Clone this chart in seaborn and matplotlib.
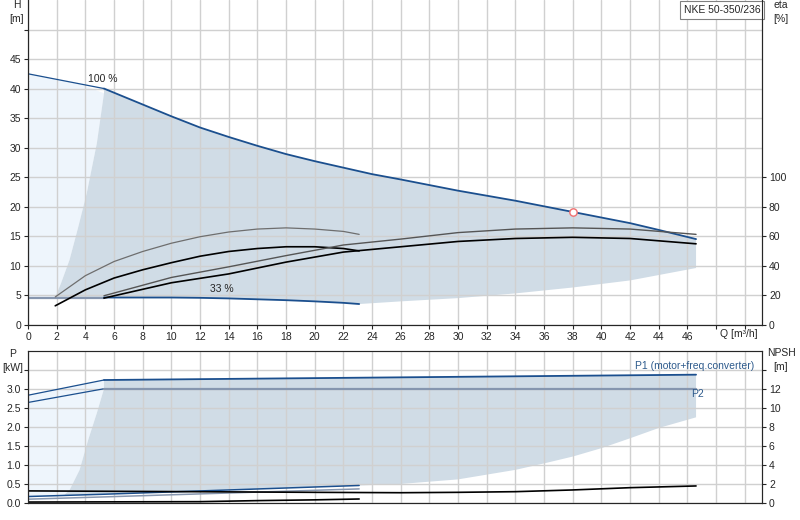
import numpy as np
import matplotlib
matplotlib.use("Agg")
import matplotlib.pyplot as plt
import seaborn as sns

# ---- data ----
# head curve at 100 % speed
q_h100_lo = [0, 5.3]
h_h100_lo = [42.5, 40.0]
q_h100 = [5.3, 8, 10, 12, 14, 16, 18, 20, 22, 24, 26, 30, 34, 38, 42, 44, 46.6]
h_h100 = [40.0, 37.3, 35.3, 33.4, 31.8, 30.3, 28.9, 27.7, 26.6, 25.5, 24.6, 22.7, 21.0, 19.1, 17.2, 16.05, 14.5]

# head curve at 33 % speed
q_h33 = [5.3, 10, 12, 14, 16, 18, 20, 22, 23.1]
h_h33 = [4.6, 4.6, 4.55, 4.45, 4.3, 4.15, 3.95, 3.7, 3.5]
q_minflow = [0, 5.3]
h_minflow = [4.6, 4.6]

# efficiency curves [%]
q_eta_a = [1.9, 4, 6, 8, 10, 12, 14, 16, 18, 20, 22, 23.1]
eta_a = [18.8, 33.2, 42.8, 49.6, 55.2, 59.6, 62.8, 64.8, 65.6, 64.8, 63.2, 61.2]
q_eta_b = [1.9, 4, 6, 8, 10, 12, 14, 16, 18, 20, 22, 23.1]
eta_b = [12.8, 23.6, 31.6, 37.2, 42.0, 46.4, 49.6, 51.6, 52.8, 52.8, 51.6, 50.0]
q_eta_c = [5.3, 10, 14, 18, 22, 26, 30, 34, 38, 42, 46.6]
eta_c = [19.6, 32.0, 39.2, 46.8, 54.0, 58.0, 62.4, 64.8, 65.6, 64.8, 61.2]
q_eta_d = [5.3, 10, 14, 18, 22, 26, 30, 34, 38, 42, 46.6]
eta_d = [18.0, 28.4, 34.4, 42.4, 49.2, 52.8, 56.4, 58.4, 59.2, 58.4, 54.8]

# duty point
q_duty = [38.0]
h_duty = [19.05]

# operating area (head chart)
q_area_left = [1.9, 2.3, 2.9, 3.5, 4.1, 4.8, 5.3]
h_area_left = [4.7, 7.0, 11.0, 16.5, 22.3, 30.7, 39.2]
q_area_low = [23.1, 26, 30, 34, 38, 42, 46.6]
h_area_low = [3.5, 3.95, 4.5, 5.3, 6.3, 7.5, 9.6]
q_light_top = [0, 3.6, 5.3]
h_light_top = [42.5, 40.8, 39.2]

# power curves [kW]
q_p1_lo = [0, 5.3]
p1_lo = [2.83, 3.23]
q_p1 = [5.3, 26, 46.6]
p1 = [3.23, 3.30, 3.37]
q_p2_lo = [0, 5.3]
p2_lo = [2.64, 3.0]
q_p2 = [5.3, 46.6]
p2 = [3.0, 3.0]
q_p1_33 = [0, 5.3, 23.1]
p1_33 = [0.17, 0.23, 0.46]
q_p2_33 = [0, 5.3, 23.1]
p2_33 = [0.10, 0.16, 0.37]

# operating area (power chart)
q_parea_left = [2.5, 2.9, 3.6, 4.2, 4.8, 5.3, 5.3]
p_parea_left = [0.2, 0.34, 0.87, 1.66, 2.36, 3.0, 3.23]
q_parea_low = [2.5, 5.3, 12, 23.1, 26, 30, 34, 36, 38, 40, 42, 44, 46.6]
p_parea_low = [0.2, 0.23, 0.32, 0.46, 0.5, 0.62, 0.87, 1.04, 1.22, 1.44, 1.70, 1.97, 2.25]

# NPSH curves [m]
q_npsh = [0, 10, 20, 26, 30, 34, 38, 42, 46.6]
npsh = [1.27, 1.2, 1.12, 1.08, 1.12, 1.19, 1.37, 1.61, 1.79]
q_npsh33 = [0, 12, 16, 20, 23.1]
npsh33 = [0.1, 0.14, 0.25, 0.33, 0.42]

x_ticks = list(range(0, 52, 2))
x_labels = [str(t) if t <= 46 else "" for t in x_ticks]

BLUE = "#1b4f8e"
GREYBLUE = "#8696af"
DARK = "#d0dce6"
LIGHT = "#eef5fc"
GRID = "#d0d0d0"
FS = 7.5

sns.set_style("ticks")
plt.rcParams["font.family"] = ["Liberation Sans", "DejaVu Sans"]
plt.rcParams["font.size"] = FS


def line(ax, q, v, color, lw):
    sns.lineplot(x=q, y=v, ax=ax, color=color, linewidth=lw, sort=False,
                 estimator=None, legend=False)


fig = plt.figure(figsize=(8, 5.2), dpi=100)
ax = fig.add_axes([0.035, 0.3756, 0.9175, 0.6244])
axp = fig.add_axes([0.035, 0.0327, 0.9175, 0.2929])

# ---------- head chart ----------
ax.set_axisbelow("line")
# light area
lq = q_light_top + q_area_left[::-1] + [0]
lh = h_light_top + h_area_left[::-1] + [4.6]
ax.fill(lq, lh, color=LIGHT, lw=0, zorder=1)
# dark area
dq = q_area_left + q_h100 + q_area_low[::-1] + q_h33[::-1] + [1.9]
dh = h_area_left + h_h100 + h_area_low[::-1] + h_h33[::-1] + [4.6]
ax.fill(dq, dh, color=DARK, lw=0, zorder=1)

line(ax, q_minflow, h_minflow, GREYBLUE, 1.6)
line(ax, q_h100_lo, h_h100_lo, BLUE, 0.9)
line(ax, q_h100, h_h100, BLUE, 1.3)
line(ax, q_h33, h_h33, BLUE, 1.3)
ax.scatter(q_duty, h_duty, s=28, facecolor="white", edgecolor="#f07070",
           linewidth=1.0, zorder=5)

ax.text(5.2, 41.6, "100 %", ha="center", va="center", fontsize=FS)
ax.text(13.5, 6.0, "33 %", ha="center", va="center", fontsize=FS)
ax.text(0.9975, 0.985, "NKE 50-350/236", transform=ax.transAxes, ha="right",
        va="top", fontsize=FS,
        bbox=dict(boxstyle="square,pad=0.35", facecolor="white", edgecolor="#808080", lw=0.8))

ax.set_xlim(0, 51.2)
ax.set_ylim(0, 55)
ax.set_xticks(x_ticks)
ax.set_xticklabels(x_labels)
ax.set_yticks(range(0, 55, 5))
ax.set_yticklabels([str(t) if t <= 45 else "" for t in range(0, 55, 5)])
ax.grid(True, color=GRID, lw=1.0)
ax.tick_params(length=3, width=0.8, labelsize=FS, pad=2)
ax.spines["top"].set_visible(False)

ax_eta = ax.twinx()
line(ax_eta, q_eta_a, eta_a, "#6e6e6e", 0.9)
line(ax_eta, q_eta_b, eta_b, "black", 1.2)
line(ax_eta, q_eta_c, eta_c, "#555555", 1.0)
line(ax_eta, q_eta_d, eta_d, "black", 1.2)
ax_eta.set_ylim(0, 220)
ax_eta.set_yticks(range(0, 101, 20))
ax_eta.tick_params(length=3, width=0.8, labelsize=FS, pad=2)
ax_eta.spines["top"].set_visible(False)
ax_eta.set_ylabel("")

# ---------- power chart ----------
axp.set_axisbelow("line")
plq = q_p1_lo + q_parea_left[::-1] + [0]
plp = p1_lo + p_parea_left[::-1] + [0.17]
axp.fill(plq, plp, color=LIGHT, lw=0, zorder=1)
pdq = q_parea_left + q_p1 + q_parea_low[::-1]
pdp = p_parea_left + p1 + p_parea_low[::-1]
axp.fill(pdq, pdp, color=DARK, lw=0, zorder=1)

line(axp, q_p1_lo, p1_lo, BLUE, 0.9)
line(axp, q_p1, p1, BLUE, 1.3)
line(axp, q_p2_lo, p2_lo, BLUE, 0.9)
line(axp, q_p2, p2, GREYBLUE, 1.6)
line(axp, q_p1_33, p1_33, BLUE, 1.1)
line(axp, q_p2_33, p2_33, GREYBLUE, 1.1)

axp.text(50.66, 3.59, "P1 (motor+freq.converter)", ha="right", va="center",
         fontsize=FS, color="#2d5a8c")
axp.text(46.7, 2.87, "P2", ha="center", va="center", fontsize=FS, color="#2d5a8c")

axp.set_xlim(0, 51.2)
axp.set_ylim(0, 4.0)
axp.set_xticks(x_ticks)
axp.set_xticklabels([])
axp.set_yticks(np.arange(0, 3.6, 0.5))
axp.set_yticklabels(["0.0", "0.5", "1.0", "1.5", "2.0", "2.5", "3.0", ""])
axp.grid(True, color=GRID, lw=1.0)
axp.tick_params(axis="y", length=3, width=0.8, labelsize=FS, pad=2)
axp.tick_params(axis="x", length=0)
for s in axp.spines.values():
    s.set_color("#333333")
axp.spines["top"].set_color("#777777")

ax_np = axp.twinx()
line(ax_np, q_npsh, npsh, "black", 1.2)
line(ax_np, q_npsh33, npsh33, "black", 1.2)
ax_np.set_ylim(0, 16)
ax_np.set_yticks(range(0, 15, 2))
ax_np.set_yticklabels([str(t) if t <= 12 else "" for t in range(0, 15, 2)])
ax_np.tick_params(length=3, width=0.8, labelsize=FS, pad=2)
ax_np.set_ylabel("")

# axis captions
fig.text(17 / 800, 1 - 12 / 520, "H\n[m]", ha="center", va="center", fontsize=FS, linespacing=1.4)
fig.text(781 / 800, 1 - 12 / 520, "eta\n[%]", ha="center", va="center", fontsize=FS, linespacing=1.4)
fig.text(739 / 800, 1 - 334 / 520, "Q [m³/h]", ha="center", va="center", fontsize=FS)
fig.text(13 / 800, 1 - 361 / 520, "P\n[kW]", ha="center", va="center", fontsize=FS, linespacing=1.4)
fig.text(781 / 800, 1 - 360 / 520, "NPSH\n[m]", ha="center", va="center", fontsize=FS, linespacing=1.4)

fig.savefig("out.png", dpi=100)
